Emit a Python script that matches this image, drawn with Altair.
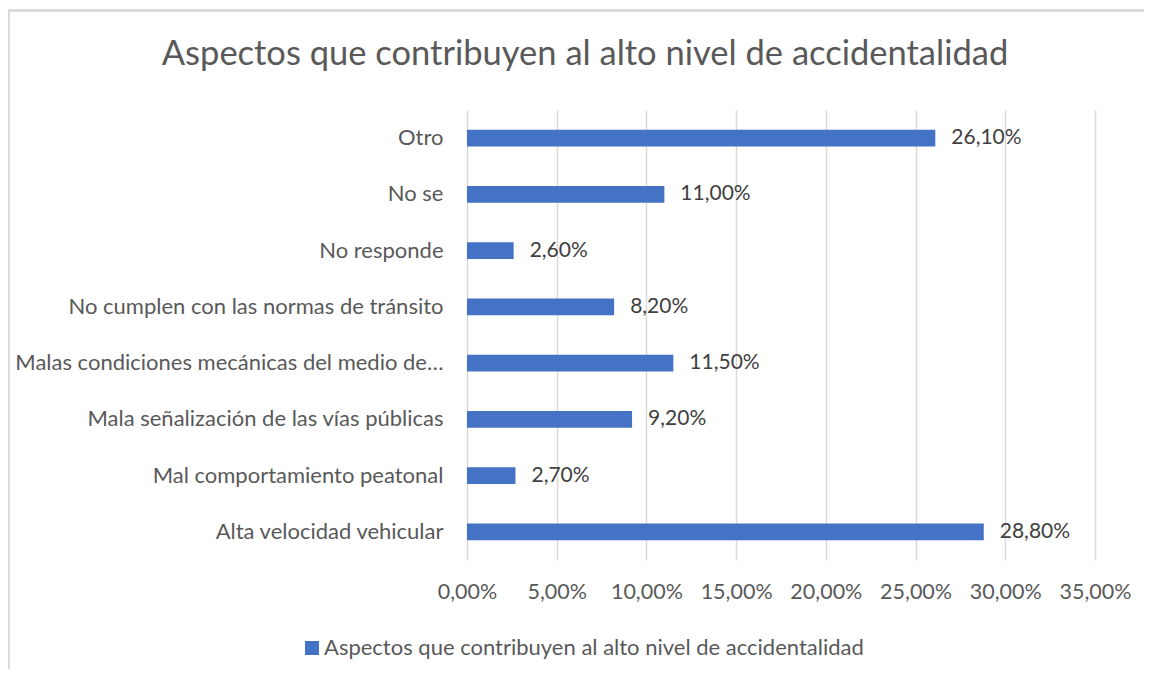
import altair as alt
import pandas as pd

categories = [
    "Otro",
    "No se",
    "No responde",
    "No cumplen con las normas de tránsito",
    "Malas condiciones mecánicas del medio de…",
    "Mala señalización de las vías públicas",
    "Mal comportamiento peatonal",
    "Alta velocidad vehicular",
]
values = [0.261, 0.110, 0.026, 0.082, 0.115, 0.092, 0.027, 0.288]
series_name = "Aspectos que contribuyen al alto nivel de accidentalidad"
chart_title = "Aspectos que contribuyen al alto nivel de accidentalidad"
x_ticks = [0, 0.05, 0.10, 0.15, 0.20, 0.25, 0.30, 0.35]

df = pd.DataFrame({"cat": categories, "val": values, "serie": [series_name] * len(categories)})
title_df = pd.DataFrame({"t": [chart_title]})

FONT = "Lato"
GRAY = "#595959"

x_enc = alt.X("val:Q", scale=alt.Scale(domain=[0, 0.35], nice=False),
              axis=alt.Axis(values=x_ticks, format=".2%", title=None, domain=False, ticks=False,
                            labelFontSize=21.5, labelColor=GRAY, labelFont=FONT, labelPadding=21,
                            labelOverlap=False, labelFlush=False, labelAlign="center",
                            grid=True, gridColor="#d9d9d9", gridWidth=1.5))
y_enc = alt.Y("cat:N", sort=categories,
              scale=alt.Scale(paddingInner=0.7, paddingOuter=0.35),
              axis=alt.Axis(title=None, ticks=False, domain=False, labelFontSize=22,
                            labelColor=GRAY, labelFont=FONT, labelPadding=24, labelLimit=600))

border = alt.Chart(df).mark_rect(fill=None, stroke="#d9d9d9", strokeWidth=1.5).encode(
    x=alt.value(-458.5), x2=alt.value(720), y=alt.value(-99.5), y2=alt.value(640)
)

title = alt.Chart(title_df).mark_text(align="center", baseline="alphabetic", fontSize=34.5,
                                      font=FONT, color=GRAY).encode(
    text="t:N", x=alt.value(118), y=alt.value(-45)
)

bars = alt.Chart(df).mark_bar(color="#4472C4").encode(
    x=x_enc, y=y_enc,
    color=alt.Color("serie:N", scale=alt.Scale(range=["#4472C4"]),
                    legend=alt.Legend(title=None, orient="none", legendX=-166, legendY=527,
                                      symbolType="square", symbolSize=196, symbolStrokeWidth=0,
                                      labelFontSize=22, labelColor=GRAY, labelFont=FONT,
                                      labelOffset=1, padding=0, labelLimit=900))
)

labels = alt.Chart(df).mark_text(align="left", baseline="middle", dx=16, fontSize=21,
                                 font=FONT, color="#404040").encode(
    x="val:Q", y=alt.Y("cat:N", sort=categories), text=alt.Text("val:Q", format=".2%")
)

chart = alt.layer(border, title, bars, labels).properties(
    width=628, height=450,
    autosize=alt.AutoSizeParams(type="none"),
    padding={"left": 459, "top": 102, "right": 49, "bottom": 109},
).configure(
    view=alt.ViewConfig(stroke=None),
    locale=alt.Locale(number=alt.NumberLocale(decimal=",", thousands=".", grouping=[3],
                                              currency=["", "€"]))
)

chart.save("out.html", embed_options={"renderer": "svg", "actions": False})
